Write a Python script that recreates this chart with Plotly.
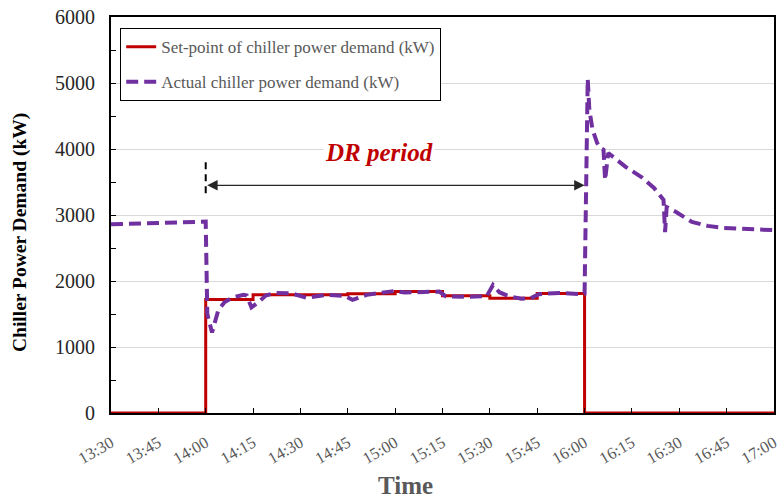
import pandas as pd
import plotly.graph_objects as go

DAY = "2020-01-01 "

# Set-point of chiller power demand (step series, value holds until next time)
sp_times = ["13:30", "14:00", "14:15", "14:45", "15:00", "15:15", "15:30", "15:45", "16:00", "17:00"]
sp_values = [0, 1720, 1790, 1805, 1840, 1775, 1740, 1810, 0, 0]

# Actual chiller power demand
act_times = ["13:30", "13:40", "13:50", "13:59", "14:00", "14:00:30", "14:02", "14:04", "14:06",
             "14:08:30", "14:12", "14:13", "14:14:30", "14:17", "14:19", "14:22", "14:27", "14:32",
             "14:38", "14:44", "14:46:30", "14:51", "14:57", "15:00", "15:03", "15:07", "15:14",
             "15:16", "15:22", "15:29", "15:31", "15:33", "15:36", "15:40", "15:43", "15:45:30",
             "15:52", "15:59", "16:00", "16:01", "16:01:30", "16:02:30", "16:04", "16:05", "16:06",
             "16:06:30", "16:07:30", "16:13", "16:18", "16:22", "16:25", "16:25:30", "16:26",
             "16:29", "16:34", "16:39", "16:44", "16:50", "16:58", "17:00"]
act_values = [2860, 2870, 2880, 2900, 2900, 1500, 1220, 1560, 1680,
              1750, 1790, 1780, 1600, 1690, 1780, 1820, 1815, 1745,
              1790, 1775, 1715, 1790, 1820, 1850, 1825, 1830, 1840,
              1770, 1760, 1770, 1940, 1830, 1770, 1730, 1740, 1800,
              1820, 1800, 1810, 5060, 4600, 4300, 4090, 4015, 3990,
              3530, 3940, 3730, 3575, 3410, 3230, 2740, 3120,
              3045, 2895, 2835, 2805, 2790, 2773, 2770]

tick_labels = ["13:30", "13:45", "14:00", "14:15", "14:30", "14:45", "15:00", "15:15",
               "15:30", "15:45", "16:00", "16:15", "16:30", "16:45", "17:00"]

dr_start, dr_end = "14:00", "16:00"
dr_label = "DR period"
dr_label_time, dr_label_value = "14:55", 3950
dr_arrow_value = 3450
dr_marker_range = [3330, 3850]


def ts(t):
    return pd.to_datetime(DAY + t)


SERIF = "Liberation Serif, Times New Roman, serif"
L, R, T, B, W, H = 111, 6, 17, 86, 780, 499
PW, PH = W - L - R, H - T - B

fig = go.Figure()
fig.add_trace(go.Scatter(
    x=[ts(t) for t in sp_times], y=sp_values, mode="lines", line_shape="hv",
    line=dict(color="#c00000", width=3), legendgroup="a",
    name="Set-point of chiller power demand (kW)"))
fig.add_trace(go.Scatter(
    x=[ts(t) for t in act_times], y=act_values, mode="lines",
    line=dict(color="#7030a0", width=4, dash="12px,6px"), legendgroup="b",
    name="Actual chiller power demand (kW)"))

# DR period annotations
fig.add_shape(type="line", xref="x", yref="y",
              x0=ts(dr_start), x1=ts(dr_start), y0=dr_marker_range[0], y1=dr_marker_range[1],
              line=dict(color="black", width=2, dash="7px,5px"))
fig.add_annotation(x=ts(dr_end), y=dr_arrow_value, ax=ts(dr_start), ay=dr_arrow_value,
                   xref="x", yref="y", axref="x", ayref="y", text="",
                   showarrow=True, arrowhead=2, startarrowhead=2, arrowside="end+start",
                   arrowsize=1.6, arrowwidth=1.3, arrowcolor="#262626")
fig.add_annotation(x=ts(dr_label_time), y=dr_label_value, xref="x", yref="y",
                   text="<b><i>" + dr_label + "</i></b>", showarrow=False,
                   font=dict(family=SERIF, size=25, color="#c00000"),
                   bgcolor="white")

# axis titles as annotations (pixel positions converted to paper coords)
fig.add_annotation(x=(405 - L) / PW, y=((H - 486) - B) / PH, xref="paper", yref="paper",
                   xanchor="center", yanchor="middle", text="<b>Time</b>",
                   showarrow=False, font=dict(family=SERIF, size=25, color="#595959"))
fig.add_annotation(x=(20 - L) / PW, y=((H - 232) - B) / PH, xref="paper", yref="paper",
                   xanchor="center", yanchor="middle",
                   text="<b>Chiller Power Demand (kW)</b>", textangle=-90,
                   showarrow=False, font=dict(family=SERIF, size=19.5, color="black"))

fig.update_layout(
    width=W, height=H,
    margin=dict(l=L, r=R, t=T, b=B, autoexpand=False),
    paper_bgcolor="white", plot_bgcolor="white",
    font=dict(family=SERIF),
    showlegend=True,
    legend=dict(x=(120 - L) / PW, y=1 - (28 - T) / PH, xanchor="left", yanchor="top",
                bgcolor="white", bordercolor="black", borderwidth=1.2,
                font=dict(family=SERIF, size=17, color="#595959"),
                tracegroupgap=10, traceorder="grouped"),
    xaxis=dict(
        range=[ts("13:30"), ts("17:00")], automargin=False,
        tickvals=[ts(t) for t in tick_labels], ticktext=tick_labels,
        tickangle=-30, ticks="inside", ticklen=5, tickcolor="black",
        tickfont=dict(family=SERIF, size=16.5, color="#595959"),
        ticklabelstandoff=12, ticklabeloverflow="allow",
        showline=True, linecolor="black", linewidth=2, mirror=True,
        showgrid=False, zeroline=False,
    ),
    yaxis=dict(
        range=[0, 6000], dtick=1000, tick0=0, automargin=False,
        ticks="inside", ticklen=5, tickcolor="black",
        minor=dict(dtick=500, ticks="inside", ticklen=5, tickcolor="black", showgrid=False),
        tickfont=dict(family=SERIF, size=20, color="#262626"),
        showline=True, linecolor="black", linewidth=2, mirror=True,
        showgrid=True, gridcolor="#d9d9d9", gridwidth=1, zeroline=False,
        ticklabelstandoff=10,
    ),
)

fig.write_html("out.html")
